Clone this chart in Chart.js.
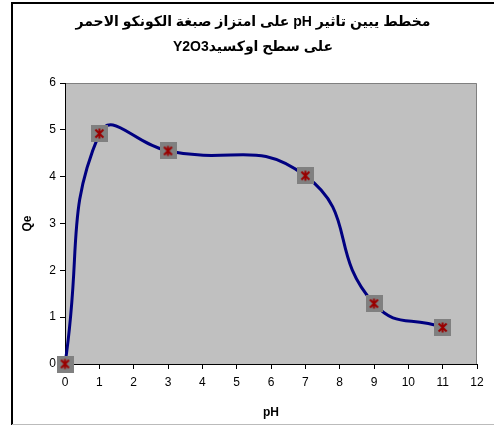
<!DOCTYPE html>
<html>
<head>
<meta charset="utf-8">
<script src="https://cdn.jsdelivr.net/npm/chart.js@4"></script>
<style>
  html, body { margin: 0; padding: 0; background: #fff; }
  #wrap { width: 494px; height: 426px; }
</style>
</head>
<body>
<div id="wrap"><canvas id="myChart" width="494" height="426"></canvas></div>
<script>
// values
const phValues = [0, 1, 3, 7, 9, 11];
const qeValues = [0, 4.92, 4.55, 4.02, 1.29, 0.78];
const titleLines = ['مخطط يبين تاثير pH على امتزاز صبغة الكونكو الاحمر', 'على سطح اوكسيدY2O3'];
const xTitle = 'pH';
const yTitle = 'Qe';

// Excel-like marker: grey square with a dark red star
function makeMarker() {
    const c = document.createElement('canvas');
    c.width = 17; c.height = 17;
    const g = c.getContext('2d');
    g.fillStyle = '#808080';
    g.fillRect(0, 0, 17, 17);
    g.strokeStyle = '#990000';
    g.lineWidth = 2;
    g.beginPath();
    g.moveTo(4.5, 4.5); g.lineTo(12.5, 12.5);
    g.moveTo(12.5, 4.5); g.lineTo(4.5, 12.5);
    g.moveTo(8.5, 3.5); g.lineTo(8.5, 13.5);
    g.stroke();
    return c;
}

// grey plot area, outer frame and the (rtl) title
const excelLook = {
    id: 'excelLook',
    beforeDraw(chart) {
        const {ctx, chartArea: a} = chart;
        ctx.save();
        ctx.fillStyle = '#C0C0C0';
        ctx.fillRect(a.left, a.top, a.right - a.left, a.bottom - a.top);
        ctx.strokeStyle = '#808080';
        ctx.lineWidth = 1;
        ctx.beginPath();
        ctx.moveTo(a.left, a.top + 0.5);
        ctx.lineTo(a.right - 0.5, a.top + 0.5);
        ctx.lineTo(a.right - 0.5, a.bottom);
        ctx.stroke();
        ctx.restore();
    },
    afterDraw(chart) {
        const ctx = chart.ctx;
        ctx.save();
        // frame
        ctx.strokeStyle = '#000';
        ctx.lineWidth = 2;
        ctx.beginPath();
        ctx.moveTo(12, 425);
        ctx.lineTo(12, 3);
        ctx.lineTo(494, 3);
        ctx.stroke();
        ctx.strokeStyle = '#BBBBBB';
        ctx.lineWidth = 1;
        ctx.beginPath();
        ctx.moveTo(12, 424.5);
        ctx.lineTo(494, 424.5);
        ctx.stroke();
        // title
        ctx.direction = 'rtl';
        ctx.textAlign = 'center';
        ctx.textBaseline = 'middle';
        ctx.fillStyle = '#000';
        ctx.font = 'bold 14px Arial, "Liberation Sans", "DejaVu Sans", sans-serif';
        ctx.fillText(titleLines[0], 253, 22);
        ctx.fillText(titleLines[1], 253, 47);
        ctx.restore();
    }
};

const tickFont = { family: 'Arial, "Liberation Sans", sans-serif', size: 12 };
const titleFont = { family: 'Arial, "Liberation Sans", sans-serif', size: 12, weight: 'bold' };

const ctx = document.getElementById('myChart').getContext('2d');
new Chart(ctx, {
    type: 'line',
    data: {
        datasets: [{
            data: phValues.map((x, i) => ({ x: x, y: qeValues[i] })),
            borderColor: '#000080',
            borderWidth: 3,
            tension: 0.5,
            fill: false,
            clip: false,
            pointStyle: makeMarker(),
            pointRadius: 8,
            pointHoverRadius: 8
        }]
    },
    options: {
        responsive: false,
        animation: false,
        layout: { padding: { left: 12, right: 17, top: 83, bottom: 2 } },
        plugins: {
            legend: { display: false },
            title: { display: false },
            tooltip: { enabled: false }
        },
        scales: {
            x: {
                type: 'linear',
                min: 0,
                max: 12,
                ticks: { stepSize: 1, color: '#000', font: tickFont, padding: 6, maxRotation: 0 },
                grid: { drawOnChartArea: false, color: '#000', tickLength: 5 },
                border: { color: '#000', width: 1 },
                title: { display: true, text: xTitle, color: '#000', font: titleFont, padding: { top: 0, bottom: 4 } },
                afterFit(scale) { scale.height = 60; }
            },
            y: {
                min: 0,
                max: 6,
                ticks: { stepSize: 1, color: '#000', font: tickFont, padding: 4 },
                grid: { drawOnChartArea: false, color: '#000', tickLength: 5 },
                border: { color: '#000', width: 1 },
                title: { display: true, text: yTitle, color: '#000', font: titleFont, padding: { top: 8, bottom: 0 } },
                afterFit(scale) { scale.width = 53; }
            }
        }
    },
    plugins: [excelLook]
});
</script>
</body>
</html>
